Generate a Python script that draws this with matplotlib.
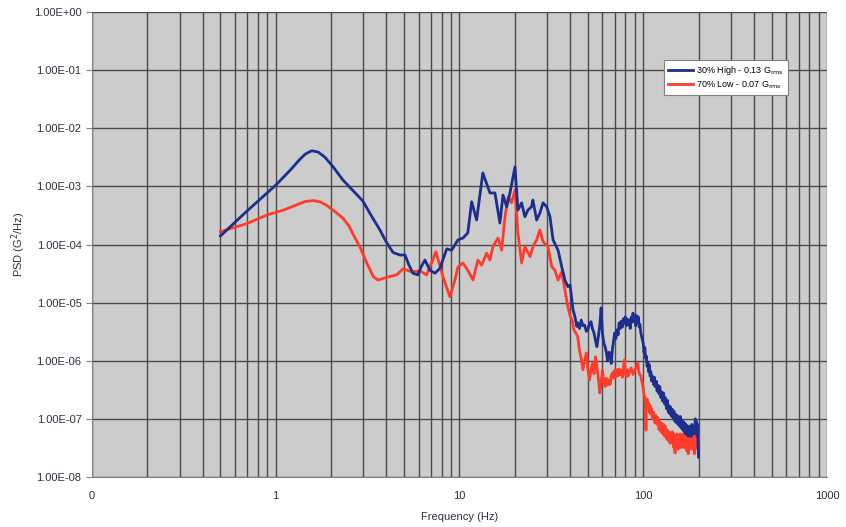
import numpy as np
import matplotlib.pyplot as plt
from matplotlib.ticker import FuncFormatter, LogLocator, NullFormatter, FixedLocator

plt.rcParams['font.family'] = ['Liberation Sans', 'DejaVu Sans']

# 30% High
high_f = [0.5, 0.7, 1.0, 1.2, 1.35, 1.45, 1.57, 1.7, 1.85, 2.05, 2.32, 2.6, 2.98, 3.3, 3.69,
          4.0, 4.35, 4.74, 5.05, 5.3, 5.58, 5.94, 6.2, 6.49, 6.91,
          7.36, 7.83, 8.52, 9.07, 9.81, 10.45, 11.1, 11.65, 12.4, 13.4, 14.65, 15.6, 16.6,
          17.25, 18.07, 18.83, 20.05, 20.8, 21.8, 22.7, 23.6, 24.7, 25.1, 26.3, 27.4, 28.5,
          29.8, 31.1, 32.3, 34.4, 36.0, 37.5, 38.9,
          40, 41.5, 42.5, 43.5, 44, 45, 46, 47, 48, 49, 50, 51, 52, 53, 54, 55, 56, 57, 58,
          59, 60, 61, 62, 63, 64, 65, 66, 67, 68, 69, 70, 71, 72, 73, 74, 75, 76, 77, 78, 79,
          80, 81, 82, 83, 84, 85, 86, 87, 88, 89, 90, 91, 92, 93, 94, 95, 96, 97, 98,
          100, 101, 102, 103, 104, 105, 106, 107, 108, 109, 110, 111, 112, 114, 115, 116, 118,
          119, 120, 122, 123, 125, 126, 128, 129, 131, 132, 134, 135, 137, 138, 140, 141, 143,
          144, 146, 147, 149, 150, 152, 153, 155, 156, 158, 159, 161, 162, 164, 165, 167, 168,
          170, 171, 173, 174, 176, 177, 179, 180, 182, 184, 186, 188, 190, 192, 194, 195, 197,
          198, 199, 200]
high_psd = [1.4e-4, 3.8e-4, 1.05e-3, 1.9e-3, 2.9e-3, 3.6e-3, 4.1e-3, 3.9e-3, 3.2e-3, 2.18e-3,
            1.29e-3, 8.8e-4, 5.6e-4, 3.2e-4, 1.78e-4, 1.1e-4, 7.3e-5, 6.6e-5, 6.6e-5, 4.5e-5,
            3.2e-5, 3.0e-5, 4.2e-5, 5.4e-5, 3.6e-5, 3.2e-5, 3.9e-5, 8.4e-5, 8.0e-5, 1.2e-4,
            1.29e-4, 1.58e-4, 5.45e-4, 2.64e-4, 1.7e-3, 7.7e-4, 7.7e-4, 2.34e-4, 7.1e-4, 4.47e-4,
            7.7e-4, 2.15e-3, 3.92e-4, 5.2e-4, 3.0e-4, 3.92e-4, 4.47e-4, 5.8e-4, 2.64e-4, 3.48e-4,
            5.2e-4, 4.47e-4, 3.0e-4, 1.2e-4, 8.0e-5, 4.15e-5, 2.45e-5, 1.88e-5,
            2.0e-5, 7.5e-6, 5.7e-6, 3.9e-6, 4.5e-6, 3.6e-6, 5.0e-6, 4.0e-6, 4.1e-6, 3.2e-6,
            3.4e-6, 4.4e-6, 4.7e-6, 3.5e-6, 3.0e-6, 2.2e-6, 1.75e-6, 2.6e-6, 4.0e-6, 8.1e-6,
            3.0e-6, 2.0e-6, 1.75e-6, 1.4e-6, 1.0e-6, 1.4e-6, 1.36e-6, 9e-7, 1.6e-6, 2.2e-6,
            3.0e-6, 2.4e-6, 3.4e-6, 2.8e-6, 4.5e-6, 3.6e-6, 4.8e-6, 3.8e-6, 5.3e-6, 4.4e-6,
            5.7e-6, 4.0e-6, 5.2e-6, 4.2e-6, 5.0e-6, 3.6e-6, 5.6e-6, 4.6e-6, 6.6e-6, 4.8e-6,
            5.4e-6, 4.0e-6, 6.0e-6, 4.6e-6, 5.7e-6, 3.8e-6, 4.2e-6, 3.0e-6, 2.6e-6,
            2.0e-6, 1.4e-6, 1.7e-6, 1.1e-6, 1.2e-6, 8e-7, 9.5e-7, 6.5e-7, 8.5e-7, 5.5e-7,
            6.5e-7, 4.5e-7, 5.5e-7, 3.9e-7, 5.2e-7, 3.6e-7, 4.4e-7, 3.0e-7, 3.8e-7, 2.7e-7,
            3.6e-7, 2.3e-7, 2.9e-7, 2.0e-7, 2.8e-7, 1.8e-7, 2.3e-7, 1.5e-7, 2.1e-7, 1.3e-7,
            1.7e-7, 1.2e-7, 1.6e-7, 1.1e-7, 1.45e-7, 1.0e-7, 1.35e-7, 9e-8, 1.2e-7, 8.5e-8,
            1.15e-7, 8e-8, 1.05e-7, 7.5e-8, 1.1e-7, 7e-8, 9.5e-8, 6.5e-8, 9e-8, 6e-8, 8.5e-8,
            5.5e-8, 8e-8, 5.5e-8, 7.5e-8, 5e-8, 7.5e-8, 5.2e-8, 7e-8, 5e-8, 8e-8, 5.5e-8, 7e-8,
            5.5e-8, 1.0e-7, 6e-8, 9e-8, 5e-8, 8e-8, 3e-8, 2.2e-8]

# 70% Low
low_f = [0.5, 0.7, 0.893, 1.1, 1.3, 1.45, 1.6, 1.75, 1.9, 2.05, 2.32, 2.5, 2.7, 2.87, 3.13,
         3.4, 3.6, 4.08, 4.55, 4.93,
         5.49, 6.1, 6.63, 7.45, 8.13, 8.87, 9.45, 9.81, 10.45, 11.1, 11.85, 12.6, 13.2, 14.06,
         14.65, 15.2, 16.2, 16.97, 17.7, 18.4, 19.2, 20.05, 20.8, 21.8, 22.7, 24.2, 25.1, 26.3,
         27.4, 28.5, 30.3, 31.8, 33.1, 34.4, 36.0, 37.5, 38.9,
         40, 41, 42, 43, 44, 45, 46, 47, 48, 49, 50, 51, 52, 53, 54, 55, 56, 57, 58, 59, 60,
         61, 62, 63, 64, 65, 66, 67, 68, 69, 70, 71, 72, 73, 74, 75, 76, 77, 78, 79, 80, 81,
         82, 83, 84, 86, 88, 90, 92, 93.6, 95, 97, 98,
         100, 101, 102, 103, 103.5, 104, 105, 106, 107, 108, 109, 110, 111, 113, 114, 116, 117,
         119, 120, 122, 123, 125, 126, 128, 129, 131, 132, 134, 135, 137, 138, 140, 141, 143,
         144, 146, 147, 149, 150, 152, 153, 155, 156, 158, 159, 161, 162, 164, 165, 167, 168,
         170, 171, 173, 174, 176, 177, 179, 180, 182, 184, 186, 188, 190, 192, 194, 195, 197,
         198, 200]
low_psd = [1.66e-4, 2.3e-4, 3.2e-4, 3.9e-4, 4.8e-4, 5.5e-4, 5.7e-4, 5.4e-4, 4.7e-4, 3.9e-4,
           2.86e-4, 2.1e-4, 1.3e-4, 9.2e-5, 4.8e-5, 2.8e-5, 2.45e-5, 2.76e-5, 3.0e-5, 3.8e-5,
           3.4e-5, 3.5e-5, 3.0e-5, 7.5e-5, 2.8e-5, 1.26e-5,
           2.45e-5, 4.1e-5, 4.8e-5, 3.6e-5, 2.45e-5, 5.4e-5, 4.4e-5, 7.1e-5, 5.4e-5, 9.2e-5,
           1.29e-4, 8.0e-5, 3.0e-4, 6.6e-4, 5.2e-4, 8.7e-4, 1.58e-4, 4.8e-5, 9.2e-5, 6.2e-5,
           9.2e-5, 1.2e-4, 1.78e-4, 1.12e-4, 9.2e-5, 4.15e-5, 3.6e-5, 2.45e-5, 3.4e-5, 1.65e-5,
           8.5e-6,
           6e-6, 5e-6, 3.4e-6, 3.0e-6, 2.6e-6, 1.5e-6, 1.1e-6, 7e-7, 1.0e-6, 1.36e-6, 7e-7,
           4.7e-7, 7e-7, 9e-7, 6e-7, 1.17e-6, 8e-7, 5e-7, 2.8e-7, 4e-7, 6.9e-7, 4.5e-7, 3.6e-7,
           5e-7, 3.8e-7, 4.7e-7, 3.9e-7, 5.5e-7, 6.2e-7, 5e-7, 6.9e-7, 5.2e-7, 7e-7, 5.5e-7,
           7.2e-7, 5.8e-7, 6.9e-7, 5.2e-7, 7.5e-7, 1.03e-6, 6e-7, 5.3e-7, 7e-7, 5.5e-7, 6.2e-7,
           7.5e-7, 5.8e-7, 6.9e-7, 8e-7, 9.1e-7, 6e-7, 5.5e-7, 4.7e-7,
           3.4e-7, 2.6e-7, 2.4e-7, 1.5e-7, 6.4e-8, 1.9e-7, 2.2e-7, 1.6e-7, 1.9e-7, 1.3e-7,
           1.7e-7, 1.2e-7, 1.5e-7, 1.0e-7, 1.3e-7, 8.5e-8, 1.15e-7, 8e-8, 1.05e-7, 6.5e-8,
           9e-8, 6e-8, 8.5e-8, 5.5e-8, 8e-8, 5e-8, 7.5e-8, 4.5e-8, 6.5e-8, 4.2e-8, 6e-8,
           3.8e-8, 5.7e-8, 4e-8, 6e-8, 3.3e-8, 5.5e-8, 2.6e-8, 5e-8, 3.5e-8, 5.5e-8, 3e-8,
           4.9e-8, 3.4e-8, 5.5e-8, 3.2e-8, 5e-8, 3.6e-8, 5.5e-8, 3.2e-8, 5e-8, 3.5e-8, 5.5e-8,
           2.8e-8, 4.5e-8, 2.5e-8, 4.3e-8, 3e-8, 5e-8, 3.3e-8, 5.2e-8, 3e-8, 5e-8, 2.5e-8,
           4.5e-8, 3.2e-8, 5.5e-8, 3.5e-8, 6.5e-8, 4.3e-8]

x_ticks = [0.1, 1, 10, 100, 1000]
x_labels = ['0', '1', '10', '100', '1000']

fig = plt.figure(figsize=(8.46, 5.27), dpi=100)
ax = fig.add_axes([0.1087, 0.0949, 0.8688, 0.8823])
ax.set_facecolor('#cccccc')

ax.plot(low_f, low_psd, color='#ff3b2b', lw=2, label='70% Low - 0.07 G$_{\\rm rms}$', zorder=3)
ax.plot(high_f, high_psd, color='#1c2e8e', lw=2, label='30% High - 0.13 G$_{\\rm rms}$', zorder=4)

ax.set_xscale('log')
ax.set_yscale('log')
ax.set_xlim(0.1, 1000)
ax.set_ylim(1e-8, 1)

ax.set_xticks(x_ticks)
ax.set_xticklabels(x_labels)
ax.xaxis.set_minor_locator(LogLocator(base=10, subs=np.arange(2, 10), numticks=20))
ax.xaxis.set_minor_formatter(NullFormatter())
ax.set_yticks([10.0 ** k for k in range(-8, 1)])
ax.yaxis.set_minor_locator(FixedLocator([]))
ax.yaxis.set_major_formatter(FuncFormatter(lambda v, p: f'{v:.2E}'))

ax.grid(True, axis='x', which='both', color='#4a4a4a', lw=1)
ax.grid(True, axis='y', which='major', color='#4a4a4a', lw=1)
ax.set_axisbelow(True)

for s in ['top', 'right']:
    ax.spines[s].set_visible(False)
for s in ['left', 'bottom']:
    ax.spines[s].set_color('#808080')

ax.tick_params(axis='x', which='both', length=0, pad=10, labelsize=8, labelcolor='#303040')
ax.tick_params(axis='y', which='major', length=4, color='#808080', labelsize=8, labelcolor='#303040')

ax.set_xlabel('Frequency (Hz)', fontsize=8, color='#303040', labelpad=8)
ax.set_ylabel('PSD (G$^2$/Hz)', fontsize=8, color='#303040', labelpad=4)

h, l = ax.get_legend_handles_labels()
leg = ax.legend(h[::-1], l[::-1], loc='upper left', bbox_to_anchor=(0.772, 0.906), fontsize=6.5,
                frameon=True, fancybox=False, framealpha=1, edgecolor='#808080',
                handlelength=2.8, borderpad=0.4, labelspacing=0.3, handletextpad=0.4)
leg.get_frame().set_linewidth(0.8)

fig.savefig('out.png', dpi=100)
